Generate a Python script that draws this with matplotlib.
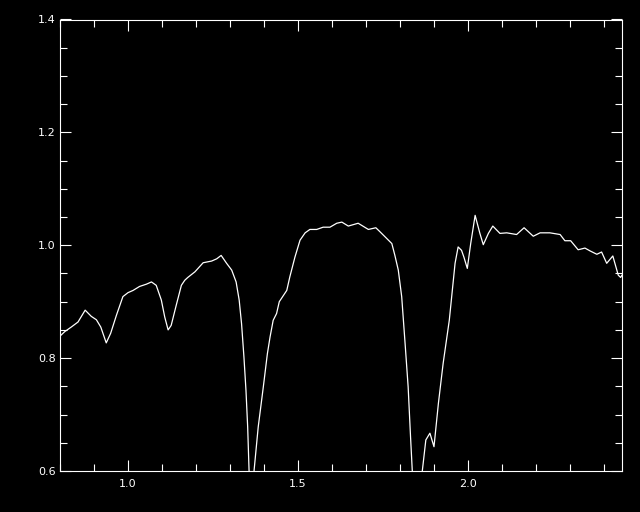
import matplotlib
matplotlib.use("Agg")
import matplotlib.pyplot as plt
from matplotlib.ticker import MultipleLocator

wavelength = [
    0.800, 0.814, 0.833, 0.853, 0.874, 0.892, 0.907, 0.920, 0.936, 0.949,
    0.966, 0.985, 1.000, 1.015, 1.034, 1.054, 1.069, 1.083, 1.098, 1.108,
    1.118, 1.127, 1.142, 1.157, 1.167, 1.176, 1.197, 1.221, 1.246, 1.261,
    1.274, 1.290, 1.305, 1.318, 1.327, 1.334, 1.341, 1.347, 1.352, 1.356,
    1.363, 1.371, 1.383, 1.398, 1.410, 1.418, 1.427, 1.437, 1.445, 1.467,
    1.476, 1.491, 1.506, 1.521, 1.535, 1.555, 1.574, 1.594, 1.614, 1.629,
    1.648, 1.677, 1.707, 1.729, 1.741, 1.761, 1.776, 1.785, 1.795, 1.805,
    1.815, 1.824, 1.831, 1.836, 1.850, 1.866, 1.876, 1.888, 1.900, 1.913,
    1.927, 1.945, 1.962, 1.971, 1.981, 1.988, 1.998, 2.008, 2.021, 2.035,
    2.045, 2.060, 2.073, 2.094, 2.114, 2.143, 2.165, 2.192, 2.212, 2.241,
    2.271, 2.285, 2.302, 2.324, 2.344, 2.359, 2.379, 2.393, 2.408, 2.426,
    2.442, 2.449, 2.453,
]
flux = [
    0.839, 0.847, 0.855, 0.864, 0.885, 0.874, 0.868, 0.855, 0.827, 0.844,
    0.876, 0.909, 0.916, 0.920, 0.927, 0.931, 0.935, 0.929, 0.903, 0.873,
    0.850, 0.858, 0.894, 0.929, 0.938, 0.943, 0.953, 0.969, 0.972, 0.976,
    0.982, 0.968, 0.956, 0.935, 0.903, 0.861, 0.802, 0.743, 0.678, 0.602,
    0.520, 0.602, 0.678, 0.749, 0.808, 0.838, 0.867, 0.879, 0.900, 0.920,
    0.944, 0.979, 1.009, 1.022, 1.028, 1.028, 1.032, 1.032, 1.039, 1.041,
    1.034, 1.039, 1.028, 1.031, 1.024, 1.012, 1.003, 0.982, 0.956, 0.909,
    0.826, 0.749, 0.661, 0.602, 0.510, 0.602, 0.655, 0.667, 0.643, 0.720,
    0.791, 0.867, 0.968, 0.997, 0.991, 0.979, 0.959, 1.003, 1.053, 1.021,
    1.001, 1.021, 1.034, 1.021, 1.022, 1.019, 1.031, 1.016, 1.022, 1.022,
    1.019, 1.008, 1.008, 0.992, 0.995, 0.990, 0.984, 0.988, 0.968, 0.981,
    0.947, 0.943, 0.947,
]

xlim = (0.8, 2.453)
ylim = (0.6, 1.4)

fig = plt.figure(figsize=(6.4, 5.12), dpi=100, facecolor="black")
ax = fig.add_axes([60/640, 1-471/512, (622-60)/640, (471-19.5)/512])
ax.set_facecolor("black")
ax.plot(wavelength, flux, color="white", lw=0.9)
ax.set_xlim(*xlim)
ax.set_ylim(*ylim)

ax.xaxis.set_major_locator(MultipleLocator(0.5))
ax.xaxis.set_minor_locator(MultipleLocator(0.1))
ax.yaxis.set_major_locator(MultipleLocator(0.2))
ax.yaxis.set_minor_locator(MultipleLocator(0.05))
ax.xaxis.set_major_formatter(matplotlib.ticker.FormatStrFormatter("%.1f"))
ax.yaxis.set_major_formatter(matplotlib.ticker.FormatStrFormatter("%.1f"))

for s in ax.spines.values():
    s.set_color("white")
    s.set_linewidth(0.8)
ax.tick_params(which="both", direction="in", top=True, right=True,
               colors="white", width=0.8, labelsize=8, labelcolor="white")
ax.tick_params(which="major", length=8)
ax.tick_params(which="minor", length=5)
ax.tick_params(axis="x", which="major", pad=6)
ax.tick_params(axis="y", which="major", pad=3)

fig.savefig("out.png", dpi=100, facecolor="black")
